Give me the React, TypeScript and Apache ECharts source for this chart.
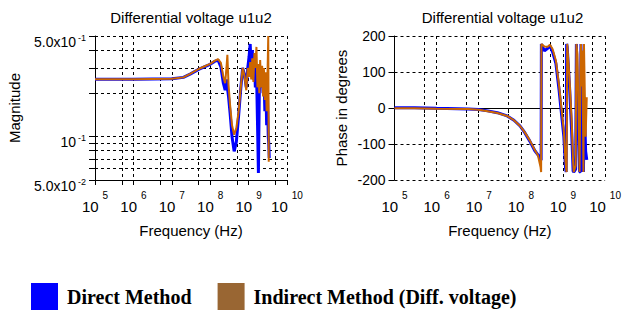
import React, { useEffect, useRef } from "react";
import * as echarts from "echarts";

const titleText = "Differential voltage u1u2";
const seriesNames = ["Direct Method", "Indirect Method (Diff. voltage)"];

// Magnitude plot (left)
const magFreq = [1e5, 1e6, 1e7, 2e7, 3e7, 5e7, 7e7, 1e8, 1.3e8, 1.6e8, 1.9e8, 2.2e8, 2.45e8, 2.65e8, 2.8e8, 3e8, 3.3e8, 3.7e8, 4.2e8, 4.8e8, 5.5e8, 6.2e8, 7e8, 7.8e8, 8.7e8, 9.5e8, 1.03e9, 1.1e9, 1.17e9, 1.25e9, 1.33e9, 1.42e9, 1.5e9, 1.6e9, 1.7e9, 1.8e9, 1.9e9, 2e9, 2.12e9, 2.25e9, 2.38e9, 2.5e9, 2.65e9, 2.8e9, 2.95e9, 3.1e9, 3.25e9, 3.35e9, 3.45e9];
const magDirect = [0.25, 0.25, 0.252, 0.258, 0.272, 0.293, 0.305, 0.318, 0.333, 0.34, 0.305, 0.235, 0.21, 0.25, 0.22, 0.19, 0.145, 0.1, 0.079, 0.092, 0.14, 0.21, 0.3, 0.27, 0.22, 0.3, 0.36, 0.44, 0.3, 0.4, 0.25, 0.33, 0.22, 0.3, 0.13, 0.056, 0.2, 0.29, 0.22, 0.28, 0.2, 0.27, 0.15, 0.25, 0.12, 0.2, 0.1, 0.09, 0.071];
const magIndirect = [0.25, 0.25, 0.252, 0.258, 0.273, 0.295, 0.307, 0.32, 0.336, 0.345, 0.325, 0.26, 0.235, 0.3, 0.37, 0.23, 0.165, 0.12, 0.103, 0.115, 0.15, 0.215, 0.3, 0.265, 0.21, 0.3, 0.26, 0.33, 0.25, 0.35, 0.24, 0.38, 0.3, 0.42, 0.22, 0.32, 0.2, 0.34, 0.22, 0.31, 0.19, 0.3, 0.18, 0.28, 0.15, 0.26, 0.5, 0.067, null];

// Phase plot (right)
const phaseFreq = [1e5, 3e5, 1e6, 5.6e6, 1e7, 1.63e7, 2.77e7, 4.72e7, 6.86e7, 9.58e7, 1.23e8, 1.63e8, 2.13e8, 2.55e8, 2.94e8, 3.03e8, 3.07e8, 3.21e8, 3.63e8, 4.35e8, 4.92e8, 5.68e8, 6.78e8, 8.08e8, 8.85e8, 1.05e9, 1.15e9, 1.19e9, 1.22e9, 1.26e9, 1.43e9, 1.6e9, 1.74e9, 1.8e9, 2.0e9, 2.08e9, 2.2e9, 2.35e9, 2.48e9, 2.6e9, 2.67e9, 2.8e9, 2.9e9, 3.06e9, 3.15e9, 3.3e9, 3.45e9, 3.67e9];
const phaseDirect = [1, 1, -1, -3, -4, -8, -13, -22, -34, -50, -68, -92, -118, -130, -142, -145, 178, 172, 159, 166, 173, 155, 124, 50, 4, -80, -167, -178, 178, 170, 60, -60, -175, -178, -170, 178, 60, -60, -177, -178, 178, 60, -40, -178, -60, -40, -120, -144];
const phaseIndirect = [-1, -1, -2, -3, -5, -9, -14, -22, -34, -50, -67, -90, -116, -132, -165, -178, 178, 176, 171, 170, 176, 163, 132, 62, 18, -65, -150, -170, -178, 178, 80, -30, -150, -178, -160, 178, 150, -20, -178, 100, 178, 60, 160, -178, 178, 40, -80, 30];

// Axis extents and tick / grid positions
const freqMin = 1e5;
const freqMax = 1e10;
const magMin = 0.05;
const magMax = 0.5;
const phaseMin = -200;
const phaseMax = 200;
const phaseStep = 100;
const freqTickValues = [1e5, 5e5, 1e6, 5e6, 1e7, 5e7, 1e8, 5e8, 1e9, 5e9, 1e10];
const magTickValues = [0.05, 0.06, 0.07, 0.08, 0.09, 0.1, 0.2, 0.3, 0.4, 0.5];

const BLUE = "#0000ff";
const ORANGE = "#cc6600";
const LEGEND_BROWN = "#996633";
const SANS = "'Liberation Sans', Arial, sans-serif";
const SERIF = "'Liberation Serif', 'Times New Roman', serif";

const pairs = (xs: number[], ys: (number | null)[]) =>
  xs.map((x, i) => [x, ys[i]]).filter((p) => p[1] !== null && p[1] !== undefined);

const gridDash = { type: [3, 3] as any, color: "#000", width: 1 };

const expLabelRich = {
  b: { fontSize: 15, fontFamily: SANS, color: "#000", lineHeight: 24, verticalAlign: "bottom" },
  s: { fontSize: 10, fontFamily: SANS, color: "#000", lineHeight: 12, verticalAlign: "top", padding: [0, 0, 0, 4] },
};

const freqLabel = (v: number) => {
  const e = Math.round(Math.log10(v));
  return `{b|10}{s|${e}}`;
};

const magLabel = (v: number) => {
  const e = Math.floor(Math.log10(v) + 1e-9);
  const m = v / Math.pow(10, e);
  const base = Math.abs(m - 1) < 1e-6 ? "10" : `${m.toFixed(1)}x10`;
  return `{b|${base}}{s|${e}}`;
};

function makeXAxis(gridIndex: number) {
  return {
    type: "log",
    logBase: 10,
    gridIndex,
    min: freqMin,
    max: freqMax,
    name: "Frequency (Hz)",
    nameLocation: "middle",
    nameGap: 43,
    nameTextStyle: { fontSize: 15, fontFamily: SANS, color: "#000" },
    axisLine: { show: true, lineStyle: { color: "#000", width: 1 } },
    axisTick: { show: true, length: 5, customValues: freqTickValues, lineStyle: { color: "#000" } },
    axisLabel: { formatter: freqLabel, rich: expLabelRich, margin: 10, showMinLabel: true, showMaxLabel: true },
    splitLine: { show: true, lineStyle: gridDash },
  };
}

export default function App() {
  const ref = useRef<HTMLDivElement>(null);

  useEffect(() => {
    document.body.style.margin = "0";
    if (!ref.current) return;
    const chart = echarts.init(ref.current, null, { renderer: "svg" });

    const option: any = {
      animation: false,
      backgroundColor: "#fff",
      title: [
        {
          text: titleText,
          left: 191,
          top: 10,
          textAlign: "center",
          padding: 0,
          textStyle: { fontSize: 15, fontWeight: "normal", fontFamily: SANS, color: "#000" },
        },
        {
          text: titleText,
          left: 502.5,
          top: 10,
          textAlign: "center",
          padding: 0,
          textStyle: { fontSize: 15, fontWeight: "normal", fontFamily: SANS, color: "#000" },
        },
      ],
      legend: {
        left: 31,
        top: 283,
        padding: 0,
        itemWidth: 27,
        itemHeight: 27,
        itemGap: 26,
        icon: "rect",
        selectedMode: false,
        textStyle: { fontFamily: SERIF, fontWeight: "bold", fontSize: 20, color: "#000", padding: [0, 0, 0, 4] },
        data: [
          { name: seriesNames[0], itemStyle: { color: BLUE, borderWidth: 0 } },
          { name: seriesNames[1], itemStyle: { color: LEGEND_BROWN, borderWidth: 0 } },
        ],
      },
      grid: [
        { left: 95, top: 36, width: 192, height: 144 },
        { left: 394.5, top: 36, width: 216, height: 144 },
      ],
      xAxis: [makeXAxis(0), makeXAxis(1)],
      yAxis: [
        {
          type: "log",
          logBase: 10,
          gridIndex: 0,
          min: magMin,
          max: magMax,
          name: "Magnitude",
          nameLocation: "middle",
          nameGap: 73,
          nameTextStyle: { fontSize: 15, fontFamily: SANS, color: "#000" },
          axisLine: { show: true, lineStyle: { color: "#000", width: 1 } },
          axisTick: { show: true, length: 6, customValues: magTickValues, lineStyle: { color: "#000" } },
          axisLabel: {
            formatter: magLabel,
            margin: 9,
            padding: [11, 0, 0, 0],
            showMinLabel: true,
            showMaxLabel: true,
            rich: {
              b: { fontSize: 14, fontFamily: SANS, color: "#000", lineHeight: 17 },
              s: { fontSize: 9, fontFamily: SANS, color: "#000", lineHeight: 8, verticalAlign: "top", padding: [0, 0, 0, 2] },
            },
          },
          splitLine: { show: true, lineStyle: gridDash },
        },
        {
          type: "value",
          gridIndex: 1,
          min: phaseMin,
          max: phaseMax,
          interval: phaseStep,
          name: "Phase in degrees",
          nameLocation: "middle",
          nameGap: 46,
          nameTextStyle: { fontSize: 15, fontFamily: SANS, color: "#000" },
          axisLine: { show: true, lineStyle: { color: "#000", width: 1 } },
          axisTick: { show: true, length: 6, lineStyle: { color: "#000" } },
          axisLabel: { fontSize: 14, fontFamily: SANS, color: "#000", margin: 9 },
          splitLine: { show: true, lineStyle: gridDash },
        },
      ],
      series: [
        {
          type: "line",
          name: seriesNames[0],
          xAxisIndex: 0,
          yAxisIndex: 0,
          data: pairs(magFreq, magDirect),
          showSymbol: false,
          symbol: "none",
          z: 2,
          itemStyle: { color: BLUE },
          lineStyle: { color: BLUE, width: 3 },
        },
        {
          type: "line",
          name: seriesNames[1],
          xAxisIndex: 0,
          yAxisIndex: 0,
          data: pairs(magFreq, magIndirect),
          showSymbol: false,
          symbol: "none",
          z: 3,
          itemStyle: { color: ORANGE },
          lineStyle: { color: ORANGE, width: 2 },
        },
        {
          type: "line",
          name: seriesNames[0],
          xAxisIndex: 1,
          yAxisIndex: 1,
          data: pairs(phaseFreq, phaseDirect),
          showSymbol: false,
          symbol: "none",
          z: 2,
          itemStyle: { color: BLUE },
          lineStyle: { color: BLUE, width: 3 },
        },
        {
          type: "line",
          name: seriesNames[1],
          xAxisIndex: 1,
          yAxisIndex: 1,
          data: pairs(phaseFreq, phaseIndirect),
          showSymbol: false,
          symbol: "none",
          z: 3,
          itemStyle: { color: ORANGE },
          lineStyle: { color: ORANGE, width: 2 },
        },
      ],
    };

    chart.setOption(option);
    return () => chart.dispose();
  }, []);

  return <div ref={ref} style={{ width: 624, height: 310 }} />;
}
